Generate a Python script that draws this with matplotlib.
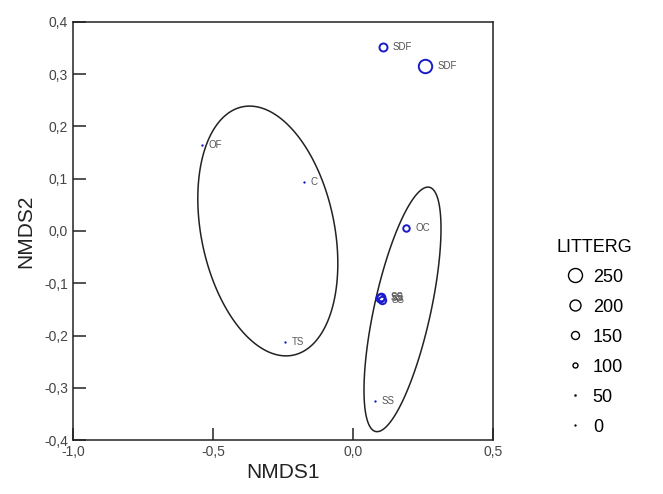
import numpy as np
import matplotlib
matplotlib.use("Agg")
import matplotlib.pyplot as plt
from matplotlib.lines import Line2D
from matplotlib.patches import Polygon
from matplotlib.ticker import FuncFormatter

plt.rcParams['font.family'] = ['Liberation Sans', 'DejaVu Sans']

# site scores
labels = ["SDF", "SDF", "OF", "C", "OC", "SS", "SS", "SS", "TS", "SS"]
nmds1 = [0.107, 0.257, -0.539, -0.175, 0.189, 0.097, 0.103, 0.100, -0.243, 0.079]
nmds2 = [0.352, 0.316, 0.165, 0.094, 0.006, -0.128, -0.133, -0.126, -0.212, -0.325]
litterg = [150, 240, 10, 10, 125, 150, 140, 145, 10, 10]

# grouping ellipses: centre x, centre y, half-width x, half-height y, correlation
ell_cx = [-0.304, 0.177]
ell_cy = [0.000, -0.150]
ell_sx = [0.250, 0.1375]
ell_sy = [0.239, 0.234]
ell_r = [-0.26, 0.66]

leg_vals = [250, 200, 150, 100, 50, 0]


def diam(v):
    # marker diameter in pixels
    return max(0.06 * v - 1, 1.8)


fig = plt.figure(figsize=(6.63, 4.94), dpi=100)
ax = fig.add_axes([0.110, 0.1093, 0.6335, 0.8462])

blue = '#1a1acc'
for x, y, v in zip(nmds1, nmds2, litterg):
    d = diam(v)
    if d < 3:
        ax.plot(x, y, 'o', ms=d * 0.72, mfc=blue, mec=blue, mew=0.3)
    else:
        ax.plot(x, y, 'o', ms=d * 0.72, mfc='none', mec=blue, mew=1.4)

for x, y, t, v in zip(nmds1, nmds2, labels, litterg):
    off = (6 + diam(v) / 2) / 280
    ax.text(x + off, y, t, fontsize=7, color='#555555', va='center', ha='left')

t = np.linspace(0, 2 * np.pi, 400, endpoint=False)
for cx, cy, sx, sy, r in zip(ell_cx, ell_cy, ell_sx, ell_sy, ell_r):
    ex = cx + sx * np.cos(t)
    ey = cy + sy * (r * np.cos(t) + np.sqrt(1 - r ** 2) * np.sin(t))
    ax.add_patch(Polygon(np.column_stack([ex, ey]), closed=True, fill=False,
                         edgecolor='#222222', lw=1.1))

ax.set_xlim(-1.0, 0.5)
ax.set_ylim(-0.4, 0.4)
ax.set_xticks([-1.0, -0.5, 0.0, 0.5])
ax.set_yticks(np.round(np.arange(-0.4, 0.41, 0.1), 1))
comma = FuncFormatter(lambda v, p: f"{v:.1f}".replace('.', ',').replace('-0,0', '0,0'))
ax.xaxis.set_major_formatter(comma)
ax.yaxis.set_major_formatter(comma)
ax.tick_params(direction='in', length=9, width=1.1, labelsize=10, colors='#222222',
               labelcolor='#444444')
for s in ax.spines.values():
    s.set_linewidth(1.1)
    s.set_color('#222222')
ax.set_xlabel("NMDS1", fontsize=15, color='#222222', labelpad=3)
ax.set_ylabel("NMDS2", fontsize=15, color='#222222', labelpad=6)

handles = []
for v in leg_vals:
    d = diam(v)
    if d < 3:
        handles.append(Line2D([], [], ls='none', marker='o', ms=d * 0.72, mfc='black',
                              mec='black', mew=0.3))
    else:
        handles.append(Line2D([], [], ls='none', marker='o', ms=d * 0.72, mfc='none',
                              mec='black', mew=1.0))
leg = fig.legend(handles, [str(v) for v in leg_vals], title="LITTERG", loc='upper left',
                 bbox_to_anchor=(0.826, 0.535), frameon=False, fontsize=13, title_fontsize=13,
                 labelspacing=0.72, handlelength=2.0, handletextpad=0.0, borderpad=0.0)
leg._legend_box.align = "left"

fig.savefig("out.png", dpi=100)
